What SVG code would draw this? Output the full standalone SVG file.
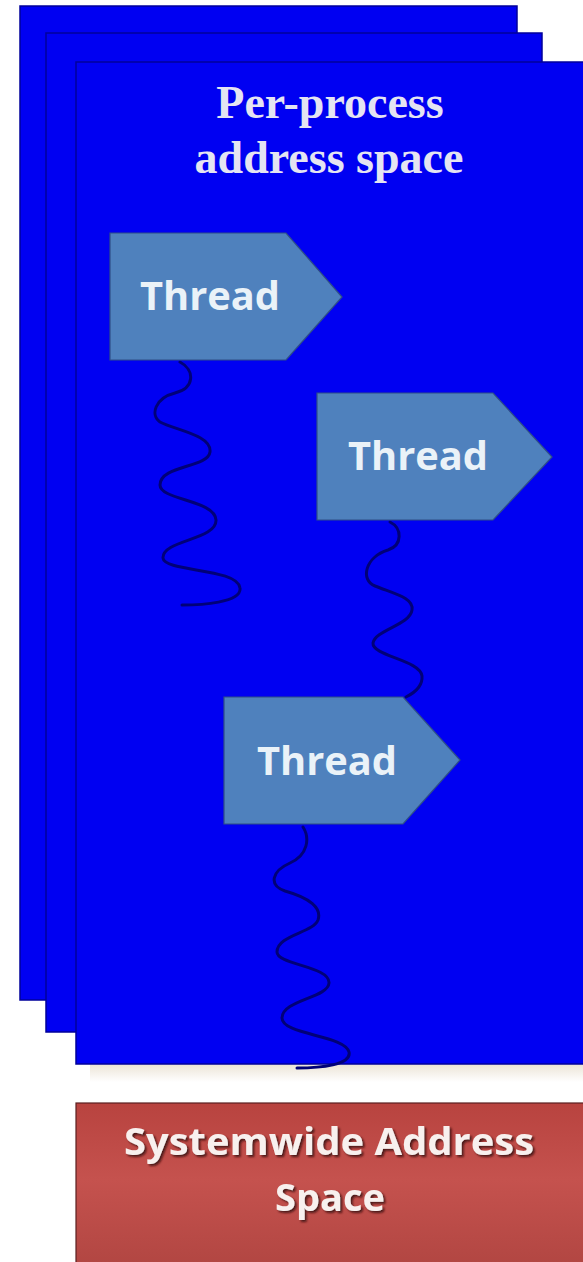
<svg xmlns="http://www.w3.org/2000/svg" width="583" height="1262" viewBox="0 0 583 1262">
<style>
.proc{fill:#0000f2;stroke:#00009a;stroke-width:1.5}
.thread{fill:#4f81bd;stroke:#2f4f86;stroke-width:1.2}
.tlabel{font-family:"Open Sans","Liberation Sans",sans-serif;font-weight:bold;font-size:40px;fill:#eaf2f8}
.title{font-family:"Liberation Serif","Times New Roman",serif;font-weight:bold;font-size:46px;fill:#e4e4f2;text-anchor:middle}
.sys{font-family:"Open Sans","Liberation Sans",sans-serif;font-weight:bold;font-size:38px;fill:#f8f0ee;text-anchor:middle}
.wave{fill:none;stroke:#000078;stroke-width:3;stroke-linecap:round;stroke-linejoin:round}
</style>
<defs>
<linearGradient id="red" x1="0" y1="0" x2="0" y2="1">
<stop offset="0" stop-color="#b8433f"/>
<stop offset="0.45" stop-color="#c5524e"/>
<stop offset="1" stop-color="#b04541"/>
</linearGradient>
<linearGradient id="shadowBand" x1="0" y1="0" x2="0" y2="1">
<stop offset="0" stop-color="#ebe4d6"/>
<stop offset="1" stop-color="#ffffff"/>
</linearGradient>
<filter id="ts" x="-10%" y="-30%" width="120%" height="160%">
<feDropShadow dx="2" dy="2" stdDeviation="1" flood-color="#3a1010" flood-opacity="0.85"/>
</filter>
<filter id="soft" x="-20%" y="-5%" width="140%" height="110%">
<feGaussianBlur stdDeviation="0.6"/>
</filter>
</defs>
<rect x="0" y="0" width="583" height="1262" fill="#ffffff"/>
<g id="process-back">
<rect class="proc" x="20" y="6" width="497" height="994"/>
</g>
<g id="process-middle">
<rect class="proc" x="46" y="33" width="496" height="999"/>
</g>
<rect x="90" y="1064" width="493" height="18" fill="url(#shadowBand)"/>
<g id="process-front">
<rect class="proc" x="76" y="62" width="520" height="1002"/>
<g id="title">
<text class="title" x="330" y="118">Per-process</text>
<text class="title" x="329" y="173">address space</text>
</g>
</g>
<g id="connectors" filter="url(#soft)">
<path class="wave" d="M180,362 C195,370 195,388 175,393 C155,398 150,415 160,422 C175,430 212,435 210,452 C208,468 160,465 160,485 C160,500 215,500 216,520 C217,540 162,540 163,558 C164,572 238,568 240,588 C242,603 200,605 182,605"/>
<path class="wave" d="M390,522 C402,528 403,545 388,550 C365,557 360,580 375,586 C395,594 414,598 412,610 C410,625 375,630 373,643 C372,656 420,660 422,676 C423,688 412,694 406,697"/>
<path class="wave" d="M303,827 C310,838 308,855 290,863 C272,871 268,885 285,891 C310,898 322,908 318,920 C313,933 277,935 277,952 C277,965 330,966 329,983 C328,998 282,1000 282,1018 C282,1035 345,1035 349,1052 C352,1065 320,1068 297,1068"/>
</g>
<g id="thread-1">
<polygon class="thread" points="110,233 286,233 342,297 286,360 110,360"/>
<text class="tlabel" x="140" y="310" textLength="140" lengthAdjust="spacingAndGlyphs">Thread</text>
</g>
<g id="thread-2">
<polygon class="thread" points="317,393 493,393 552,457 493,520 317,520"/>
<text class="tlabel" x="348" y="470" textLength="140" lengthAdjust="spacingAndGlyphs">Thread</text>
</g>
<g id="thread-3">
<polygon class="thread" points="224,697 403,697 460,760 403,824 224,824"/>
<text class="tlabel" x="257" y="775" textLength="140" lengthAdjust="spacingAndGlyphs">Thread</text>
</g>
<g id="systemwide">
<rect x="76" y="1103" width="520" height="170" fill="url(#red)" stroke="#5a2020" stroke-width="1.2"/>
<text class="sys" x="329" y="1155" filter="url(#ts)" textLength="410" lengthAdjust="spacingAndGlyphs">Systemwide Address</text>
<text class="sys" x="330" y="1211" filter="url(#ts)">Space</text>
</g>
</svg>
